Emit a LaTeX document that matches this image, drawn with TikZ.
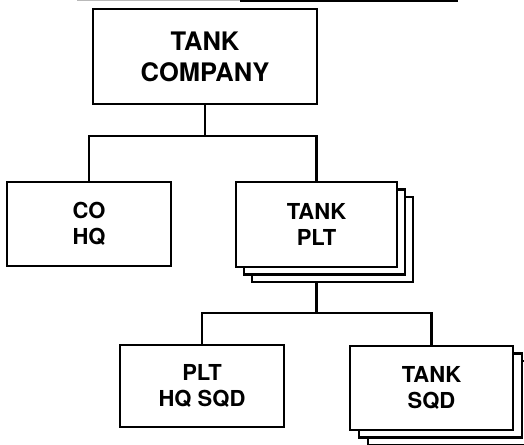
\documentclass[tikz,border=0pt]{standalone}
\usepackage{fontspec}
\setmainfont{TeX Gyre Heros}
\usepackage{tikz}
\usetikzlibrary{positioning,shadows}

\begin{document}
\begin{tikzpicture}[x=1pt,y=1pt,line width=2.2pt,every node/.style={font=\bfseries\fontsize{22}{26.5}\selectfont,align=center}]
        \useasboundingbox (0,0) rectangle (524,-444);
        \draw[gray!55,line width=1pt] (77,-1) -- (240,-1);
        \draw[line width=1.6pt] (240,-1) -- (458,-1);
        \node[draw,fill=white,minimum width=224pt,minimum height=95pt,font=\bfseries\fontsize{25.5}{31}\selectfont] (company) at (205,-56.5) {TANK\\COMPANY};
        \node[draw,fill=white,minimum width=164pt,minimum height=84pt] (cohq) at (89,-224) {CO\\HQ};
        \node[draw,fill=white,minimum width=161pt,minimum height=85pt,double copy shadow={shadow xshift=8pt,shadow yshift=-7.5pt,draw,fill=white}] (plt) at (316.5,-224.5) {TANK\\PLT};
        \node[draw,fill=white,minimum width=164pt,minimum height=82pt] (hqsqd) at (202,-386) {PLT\\HQ SQD};
        \node[draw,fill=white,minimum width=163pt,minimum height=84pt,double copy shadow={shadow xshift=9pt,shadow yshift=-7.5pt,draw,fill=white}] (sqd) at (431.5,-388) {TANK\\SQD};
        \draw (company.south) -- ++(0,-31) coordinate (bus1);
        \draw (cohq.north) |- (bus1) -| (plt.north);
        \draw ([yshift=-15pt]plt.south) -- ++(0,-30) coordinate (bus2);
        \draw (hqsqd.north) |- (bus2) -| (sqd.north);
      \end{tikzpicture}
\end{document}
